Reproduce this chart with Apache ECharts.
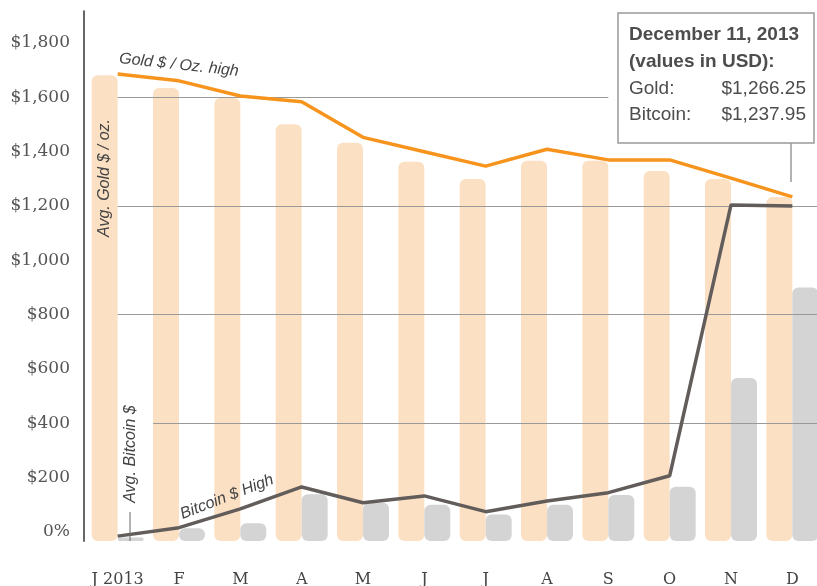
<!DOCTYPE html>
<html>
<head>
<meta charset="utf-8">
<title>Gold vs Bitcoin 2013</title>
<script src="https://cdn.jsdelivr.net/npm/echarts@6/dist/echarts.min.js"></script>
<style>
  html, body { margin: 0; padding: 0; background: #fff; }
  #chart { width: 817px; height: 586px; }
</style>
</head>
<body>
<div id="chart"></div>
<script>
const months = ['J 2013', 'F', 'M', 'A', 'M', 'J', 'J', 'A', 'S', 'O', 'N', 'D']
const goldAvg = [1715, 1668, 1631, 1534, 1466, 1396, 1333, 1400, 1400, 1362, 1333, 1266]
const bitcoinAvg = [13, 47, 65, 172, 141, 133, 98, 133, 169, 200, 600, 933]
const goldHigh = [1719, 1694, 1638, 1617, 1486, 1433, 1380, 1442, 1403, 1403, 1336, 1267]
const bitcoinHigh = [18, 49, 118, 199, 141, 166, 108, 147, 178, 240, 1237, 1233]
const yTickLabels = ['0%', '$200', '$400', '$600', '$800', '$1,000', '$1,200', '$1,400', '$1,600', '$1,800']
const gridLineValues = [1600, 1200, 800, 400]

const sans = '"Liberation Sans", Arial, sans-serif'
const serif = '"DejaVu Serif", Georgia, serif'

// rotated text placed by hand, like the original annotations
function note(text, x, y, rotation, size) {
  return {
    type: 'text', x: x, y: y, rotation: rotation, z: 20,
    style: {
      text: text, font: 'italic ' + size + 'px ' + sans, fill: '#444',
      align: 'center', verticalAlign: 'middle', textAlign: 'center', textVerticalAlign: 'middle'
    }
  }
}

function boxText(text, x, y, bold, align) {
  return {
    type: 'text', x: x, y: y, z: 31,
    style: {
      text: text, font: (bold ? 'bold ' : '') + '19px ' + sans, fill: '#4d4d4d',
      align: align, verticalAlign: 'middle', textAlign: align, textVerticalAlign: 'middle'
    }
  }
}

// start / end of each horizontal rule, in month-band units
const ruleSpans = [[0.5, 8.5], [0.5, 12], [0.5, 12], [1.08, 12]]

const chart = echarts.init(document.getElementById('chart'))

chart.setOption({
  animation: false,
  grid: [
    // bars and lines
    { left: 87, top: 11.3, width: 736, height: 529.7, outerBoundsMode: 'none' },
    // labels and rules (sit 9px higher, as in the original)
    { left: 87, top: 43, width: 736, height: 489, outerBoundsMode: 'none' }
  ],
  xAxis: [{
    type: 'category',
    gridIndex: 0,
    data: months,
    axisLine: { show: false },
    axisTick: { show: false },
    axisLabel: { interval: 0, margin: 31, fontFamily: serif, fontSize: 16, color: '#444' }
  }, {
    type: 'value',
    gridIndex: 1,
    min: 0,
    max: 12,
    show: false
  }],
  yAxis: [{
    type: 'value',
    gridIndex: 0,
    min: 0,
    max: 1950,
    offset: 3,
    axisLine: { show: true, lineStyle: { color: '#666', width: 2 } },
    axisTick: { show: false },
    axisLabel: { show: false },
    splitLine: { show: false }
  }, {
    type: 'value',
    gridIndex: 1,
    min: 0,
    max: 1800,
    interval: 200,
    axisLine: { show: false },
    axisTick: { show: false },
    splitLine: { show: false },
    axisLabel: {
      margin: 17,
      fontFamily: serif,
      fontSize: 17,
      color: '#555',
      formatter: v => yTickLabels[Math.round(v / 200)]
    }
  }],
  series: [{
    name: 'Avg. Gold $ / oz.',
    type: 'bar',
    data: goldAvg,
    barWidth: 26,
    barGap: '0%',
    z: 2,
    itemStyle: { color: '#FCE0C4', borderRadius: 6 }
  }, {
    name: 'Avg. Bitcoin $',
    type: 'bar',
    data: bitcoinAvg,
    barWidth: 26,
    barGap: '0%',
    z: 2,
    itemStyle: { color: '#D4D4D4', borderRadius: 6 }
  }, {
    // horizontal rules
    type: 'line',
    xAxisIndex: 1,
    yAxisIndex: 1,
    data: [],
    z: 3,
    markLine: {
      silent: true,
      symbol: ['none', 'none'],
      label: { show: false },
      lineStyle: { color: '#999', width: 1, type: 'solid' },
      data: gridLineValues.map((v, i) => [
        { coord: [ruleSpans[i][0], v] },
        { coord: [ruleSpans[i][1], v] }
      ])
    }
  }, {
    name: 'Gold $ / Oz. high',
    type: 'line',
    data: goldHigh,
    symbol: 'none',
    z: 5,
    lineStyle: { color: '#F7941D', width: 3.5 }
  }, {
    name: 'Bitcoin $ High',
    type: 'line',
    data: bitcoinHigh,
    symbol: 'none',
    z: 5,
    lineStyle: { color: '#625d5b', width: 3.5 }
  }],
  graphic: [
    note('Gold $ / Oz. high', 179, 65, -0.107, 16),
    note('Avg. Gold $ / oz.', 105, 178, Math.PI / 2, 16),
    note('Avg. Bitcoin $', 131, 454, Math.PI / 2, 16),
    note('Bitcoin $ High', 227, 497, 0.37, 16),
    { type: 'line', z: 20, shape: { x1: 130, y1: 512, x2: 130, y2: 541 }, style: { stroke: '#666', lineWidth: 1 } },
    // callout box
    { type: 'line', z: 30, shape: { x1: 791, y1: 143, x2: 791, y2: 182 }, style: { stroke: '#999', lineWidth: 1.5 } },
    { type: 'rect', z: 30, shape: { x: 618, y: 13, width: 196, height: 130 }, style: { fill: '#fff', stroke: '#999', lineWidth: 1.5 } },
    boxText('December 11, 2013', 629, 35, true, 'left'),
    boxText('(values in USD):', 629, 62, true, 'left'),
    boxText('Gold:', 629, 89, false, 'left'),
    boxText('$1,266.25', 806, 89, false, 'right'),
    boxText('Bitcoin:', 629, 115, false, 'left'),
    boxText('$1,237.95', 806, 115, false, 'right')
  ]
})
</script>
</body>
</html>
